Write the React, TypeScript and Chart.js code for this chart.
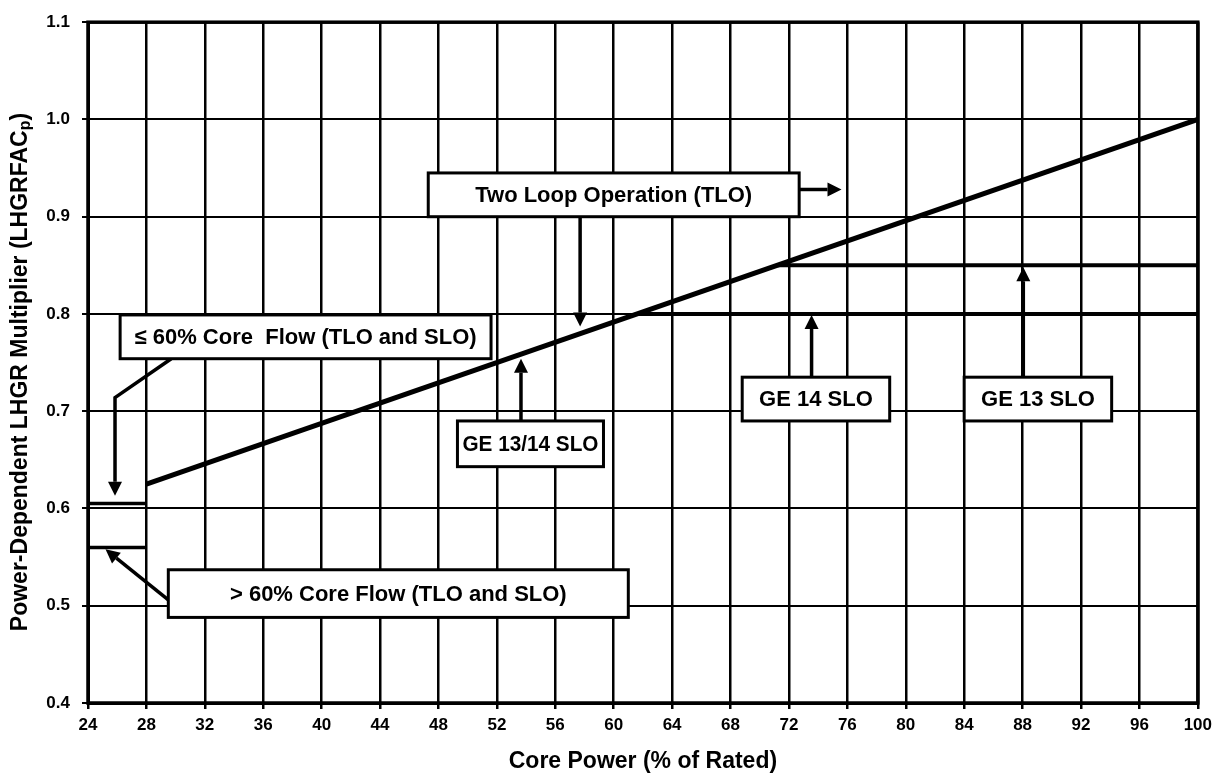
import React, { useEffect, useRef } from "react";
import { Chart, registerables } from "chart.js";

Chart.register(...registerables);

const FONT = '"Liberation Sans", Arial, Helvetica, sans-serif';

// ---- data ----
const xTickValues = [24, 28, 32, 36, 40, 44, 48, 52, 56, 60, 64, 68, 72, 76, 80, 84, 88, 92, 96, 100];
const yTickLabels = ["0.4", "0.5", "0.6", "0.7", "0.8", "0.9", "1.0", "1.1"];

const tloPower = [28, 100];
const tloMult = [0.625, 1.0];

const ge14Power = [61.6, 100];
const ge14Mult = [0.8, 0.8];

const ge13Power = [71.2, 100];
const ge13Mult = [0.85, 0.85];

const lowFlowPower = [24, 28];
const lowFlowMult = [0.605, 0.605];

const highFlowPower = [24, 28];
const highFlowMult = [0.56, 0.56];

const xTitle = "Core Power (% of Rated)";
const yTitleMain = "Power-Dependent LHGR Multiplier (LHGRFAC";
const yTitleSub = "p";
const yTitleEnd = ")";

// ---- annotations (data coordinates) ----
const boxes = [
  { text: "Two Loop Operation (TLO)", x0: 47.3, x1: 72.7, y0: 0.945, y1: 0.9 },
  { text: "\u2264 60% Core  Flow (TLO and SLO)", x0: 26.2, x1: 51.6, y0: 0.799, y1: 0.754 },
  { text: "> 60% Core Flow (TLO and SLO)", x0: 29.5, x1: 61.0, y0: 0.537, y1: 0.488 },
  { text: "GE 13/14 SLO", x0: 49.3, x1: 59.3, y0: 0.69, y1: 0.643 },
  { text: "GE 14 SLO", x0: 68.8, x1: 78.9, y0: 0.735, y1: 0.69 },
  { text: "GE 13 SLO", x0: 84.0, x1: 94.1, y0: 0.735, y1: 0.69 },
];

const arrows: { pts: [number, number][] }[] = [
  { pts: [[72.7, 0.928], [75.6, 0.928]] },
  { pts: [[57.7, 0.9], [57.7, 0.787]] },
  { pts: [[29.7, 0.754], [25.85, 0.714], [25.85, 0.613]] },
  { pts: [[29.5, 0.506], [25.2, 0.558]] },
  { pts: [[53.65, 0.69], [53.65, 0.754]] },
  { pts: [[73.55, 0.735], [73.55, 0.799]] },
  { pts: [[88.05, 0.735], [88.05, 0.848]] },
];

const toPts = (xs: number[], ys: number[]) => xs.map((x, i) => ({ x, y: ys[i] }));

const overlayPlugin = {
  id: "overlay",
  beforeDraw(chart: any) {
    const ctx = chart.ctx;
    ctx.save();
    ctx.fillStyle = "#fff";
    ctx.fillRect(0, 0, chart.width, chart.height);
    ctx.restore();
  },
  afterDatasetsDraw(chart: any) {
    const ctx = chart.ctx as CanvasRenderingContext2D;
    const { chartArea } = chart;
    const xs = chart.scales.x;
    const ys = chart.scales.y;
    const px = (v: number) => xs.getPixelForValue(v);
    const py = (v: number) => ys.getPixelForValue(v);

    ctx.save();
    // frame
    ctx.strokeStyle = "#000";
    ctx.lineWidth = 3.5;
    ctx.strokeRect(chartArea.left, chartArea.top, chartArea.right - chartArea.left, chartArea.bottom - chartArea.top);

    // arrows
    ctx.lineWidth = 3.5;
    ctx.fillStyle = "#000";
    for (const a of arrows) {
      const p = a.pts.map(([x, y]) => [px(x), py(y)]);
      const n = p.length;
      const [ex, ey] = p[n - 1];
      const [sx, sy] = p[n - 2];
      const ang = Math.atan2(ey - sy, ex - sx);
      const hl = 14, hw = 7;
      const bx = ex - Math.cos(ang) * hl;
      const by = ey - Math.sin(ang) * hl;
      ctx.beginPath();
      ctx.moveTo(p[0][0], p[0][1]);
      for (let i = 1; i < n - 1; i++) ctx.lineTo(p[i][0], p[i][1]);
      ctx.lineTo(bx, by);
      ctx.stroke();
      ctx.beginPath();
      ctx.moveTo(ex, ey);
      ctx.lineTo(bx + Math.sin(ang) * hw, by - Math.cos(ang) * hw);
      ctx.lineTo(bx - Math.sin(ang) * hw, by + Math.cos(ang) * hw);
      ctx.closePath();
      ctx.fill();
    }

    // boxes
    ctx.font = `bold 22px ${FONT}`;
    ctx.textAlign = "center";
    ctx.textBaseline = "middle";
    for (const b of boxes) {
      const l = px(b.x0), r = px(b.x1), t = py(b.y0), bt = py(b.y1);
      ctx.fillStyle = "#fff";
      ctx.fillRect(l, t, r - l, bt - t);
      ctx.lineWidth = 3;
      ctx.strokeStyle = "#000";
      ctx.strokeRect(l, t, r - l, bt - t);
      ctx.fillStyle = "#000";
      ctx.fillText(b.text, (l + r) / 2, (t + bt) / 2 + 1, r - l - 10);
    }

    // x title
    ctx.font = `bold 23px ${FONT}`;
    ctx.fillText(xTitle, (chartArea.left + chartArea.right) / 2, 762);

    // y title with subscript
    ctx.translate(21, 372);
    ctx.rotate(-Math.PI / 2);
    ctx.textAlign = "left";
    const mainFont = `bold 23px ${FONT}`;
    const subFont = `bold 16px ${FONT}`;
    ctx.font = mainFont;
    const w1 = ctx.measureText(yTitleMain).width;
    const w3 = ctx.measureText(yTitleEnd).width;
    ctx.font = subFont;
    const w2 = ctx.measureText(yTitleSub).width;
    let sx = -(w1 + w2 + w3) / 2;
    ctx.font = mainFont;
    ctx.fillText(yTitleMain, sx, 0);
    sx += w1;
    ctx.font = subFont;
    ctx.fillText(yTitleSub, sx, 5);
    sx += w2;
    ctx.font = mainFont;
    ctx.fillText(yTitleEnd, sx, 0);
    ctx.restore();
  },
};

export default function App() {
  const ref = useRef<HTMLCanvasElement | null>(null);

  useEffect(() => {
    if (!ref.current) return;
    const lineDs = (data: any[], w: number) => ({
      data,
      showLine: true,
      borderColor: "#000",
      backgroundColor: "#000",
      borderWidth: w,
      pointRadius: 0,
      pointHoverRadius: 0,
      fill: false,
      tension: 0,
    });
    const chart = new Chart(ref.current, {
      type: "scatter",
      data: {
        datasets: [
          lineDs(toPts(tloPower, tloMult), 5),
          lineDs(toPts(ge14Power, ge14Mult), 4),
          lineDs(toPts(ge13Power, ge13Mult), 4),
          lineDs(toPts(lowFlowPower, lowFlowMult), 3.5),
          lineDs(toPts(highFlowPower, highFlowMult), 3.5),
        ],
      },
      options: {
        responsive: false,
        animation: false,
        devicePixelRatio: 1,
        layout: { padding: { top: 16, right: 18, left: 0, bottom: 0 } },
        plugins: { legend: { display: false }, tooltip: { enabled: false } },
        events: [],
        scales: {
          x: {
            type: "linear",
            min: 24,
            max: 100,
            afterFit: (s: any) => {
              s.height = 71;
            },
            afterBuildTicks: (s: any) => {
              s.ticks = xTickValues.map((v) => ({ value: v }));
            },
            ticks: {
              autoSkip: false,
              maxRotation: 0,
              color: "#000",
              padding: 6,
              font: { family: FONT, size: 17, weight: "bold" },
              callback: (v: any) => String(v),
            },
            grid: { color: "#000", lineWidth: 2.5, tickLength: 6 },
            border: { display: true, color: "#000", width: 3 },
          },
          y: {
            type: "linear",
            min: 0.4,
            max: 1.1,
            afterFit: (s: any) => {
              s.width = 88;
            },
            ticks: {
              stepSize: 0.1,
              color: "#000",
              padding: 12,
              font: { family: FONT, size: 17, weight: "bold" },
              callback: (v: any) => yTickLabels[Math.round((Number(v) - 0.4) * 10)] ?? "",
            },
            grid: { color: "#000", lineWidth: 2, tickLength: 6 },
            border: { display: true, color: "#000", width: 3 },
          },
        },
      },
      plugins: [overlayPlugin],
    } as any);
    return () => chart.destroy();
  }, []);

  return (
    <div style={{ position: "absolute", left: 0, top: 0, width: 1218, height: 774, background: "#fff" }}>
      <canvas ref={ref} width={1218} height={774} style={{ display: "block" }} />
    </div>
  );
}
